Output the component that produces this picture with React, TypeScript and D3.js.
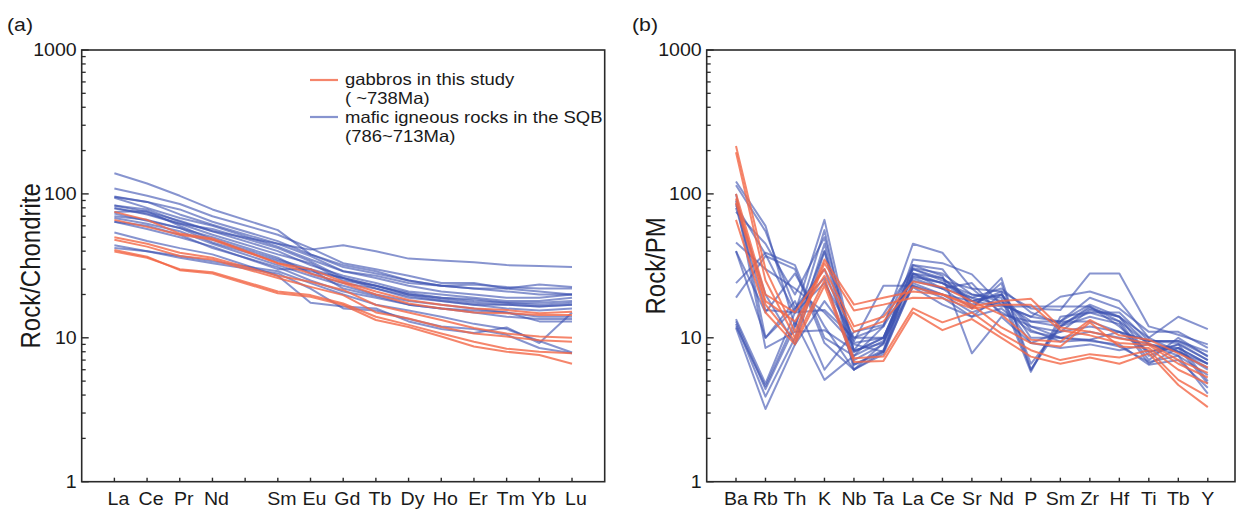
import React from 'react';
import * as d3 from 'd3';

// ---------- DATA ----------
// Panel (a): chondrite-normalized REE
const reeTickLabels = ['La', 'Ce', 'Pr', 'Nd', '', 'Sm', 'Eu', 'Gd', 'Tb', 'Dy', 'Ho', 'Er', 'Tm', 'Yb', 'Lu'];
const reePlotted = ['La', 'Ce', 'Pr', 'Nd', 'Sm', 'Eu', 'Gd', 'Tb', 'Dy', 'Ho', 'Er', 'Tm', 'Yb', 'Lu'];

const reeGabbros: number[][] = [
  [75, 66, 53, 49, 33, 30, 24.5, 21, 18.3, 17, 16, 15.6, 14.8, 15.2],
  [66, 59, 52, 48, 33, 28, 24, 20, 17.3, 16, 15, 14.8, 14.4, 14.4],
  [50, 45, 39, 36, 27, 24.5, 21.5, 16.9, 15, 13.3, 11.7, 10.7, 10.2, 10],
  [48, 43, 37, 35, 26, 22.6, 19.8, 15, 13.6, 11.9, 10.7, 10.2, 9.6, 9.4],
  [40.7, 36.6, 29.5, 28, 20.4, 19.3, 16.9, 13.3, 11.9, 10.2, 8.7, 8, 7.6, 6.6],
  [39.7, 36, 30, 28.6, 21, 19.8, 17.3, 14, 12.3, 10.7, 9.4, 8.4, 8, 7.8],
];

const reeSQB: number[][] = [
  [139, 118, 97, 78, 56, 38, 32, 29, 25, 23, 22, 21, 20, 20],
  [83, 75, 65, 55, 45, 41, 44, 40, 35.5, 34.5, 33.5, 32, 31.5, 31],
  [109, 97, 85, 70, 52, 42, 33, 30, 27, 24, 24, 22, 23.5, 22.5],
  [96, 88, 78, 64, 47, 38, 31, 28, 25, 23, 23.5, 22.5, 22, 22],
  [94, 80, 68, 60, 43, 35, 29, 26, 23, 21, 20, 19, 19, 20],
  [83, 78, 64, 55, 40, 32, 27, 24, 21, 20, 19, 18, 18, 19],
  [79, 73, 62, 52, 38, 33, 25, 23, 20, 19, 18, 17.5, 17, 17.5],
  [75, 76, 60, 48, 35, 30, 26, 22, 19, 18, 17, 17, 16.5, 17],
  [73, 65, 58, 50, 36, 28, 24, 22, 19.5, 18, 17, 16, 15.5, 16],
  [68, 62, 55, 45, 32, 27, 23, 20, 18, 17, 16, 15, 14, 14],
  [64, 57, 50, 43, 30, 30, 22, 19.5, 17, 16, 15, 14, 13.5, 13.5],
  [64, 60, 52, 42, 31, 25, 21, 19, 17, 16, 15.5, 15, 13, 13],
  [54, 47, 42, 38, 27, 17.5, 16.5, 16, 13, 11.5, 10.8, 11.8, 9.2, 15],
  [44, 40, 36, 33, 28, 22, 16, 15.5, 13.5, 12, 11.5, 10.5, 8.5, 7.8],
  [42, 40, 37, 34, 29, 24, 20, 17, 15.5, 14, 12.5, 11.5, 9.5, 7.9],
  [95, 88, 72, 61, 45, 37, 29, 27, 24, 23, 22, 22, 21, 20],
  [70, 66, 58, 46, 34, 29, 26, 23, 20, 18.5, 17.5, 17, 16.5, 17],
  [80, 72, 62, 57, 42, 34, 26, 23, 20.5, 19, 18.5, 17.5, 17.5, 18],
];

// Panel (b): primitive-mantle-normalized trace elements
const traceElements = ['Ba', 'Rb', 'Th', 'K', 'Nb', 'Ta', 'La', 'Ce', 'Sr', 'Nd', 'P', 'Sm', 'Zr', 'Hf', 'Ti', 'Tb', 'Y'];

const traceGabbros: number[][] = [
  [215, 30, 11, 35, 17, 19, 21, 20, 16.5, 18, 18.7, 11.8, 11, 9.9, 9.2, 7, 5.7],
  [195, 25, 10, 33, 15.5, 17, 19, 18.8, 16, 17, 17, 11.3, 10.4, 9.2, 8.9, 6.6, 5.3],
  [100, 20, 15, 30, 12, 14, 24.6, 22.5, 18, 14.5, 9.7, 9.4, 13.3, 10.4, 9.7, 7.8, 6.2],
  [93, 18, 13, 27, 11, 13, 22.5, 20, 17, 11.8, 9.2, 8.7, 12.8, 8.7, 8.5, 6, 4.8],
  [87, 17, 9.5, 25, 7.2, 7.4, 16, 12.8, 15, 10.7, 8.2, 7, 7.7, 7.3, 8.2, 5.1, 3.9],
  [66, 15, 9, 23, 6.8, 6.9, 15, 11.3, 13.5, 10, 7.4, 6.6, 7.3, 6.6, 7.8, 4.7, 3.3],
];

const traceSQB: number[][] = [
  [122, 60, 12, 40, 9.2, 10, 30, 26, 18, 20, 12, 11, 15.6, 14, 9, 8.5, 6.6],
  [115, 55, 16, 30, 8.2, 9.2, 28, 24, 20, 18, 13, 12, 16.5, 12, 8, 9, 7],
  [83, 38, 15, 24, 10, 12, 26, 22, 19, 17, 14, 13, 17, 14, 10, 8, 6.2],
  [80, 15.6, 15, 15.6, 10, 10, 26.5, 24, 18, 16.5, 16.5, 16.5, 16.5, 13, 9, 8, 6.6],
  [46, 30, 22, 15, 9, 8, 23, 19, 14, 20, 11.3, 9.4, 9.7, 11, 9.5, 9.5, 8],
  [40, 15, 28, 12, 6, 8, 32, 30, 16, 26, 6, 13, 19, 16, 11, 11, 8.5],
  [24, 39, 32, 10, 7.5, 12, 45, 39, 22, 21, 16, 15.6, 28, 28, 12, 10.5, 9],
  [19, 37, 30, 9.2, 6, 9.2, 35, 33, 27.6, 17, 14, 19.3, 21, 18, 10, 14, 11.5],
  [13.5, 4.8, 15, 66, 8, 10, 30.5, 28, 20, 19, 5.8, 14, 15, 13, 7, 10, 7.4],
  [13, 4.4, 12, 56, 7, 9, 28, 26, 17, 21, 6, 12, 14, 12.5, 6.6, 8.5, 6.6],
  [12.5, 3.9, 10, 45, 6.5, 8, 25, 22, 16, 24, 6.6, 12, 16, 14, 7.5, 9, 5],
  [11.7, 3.2, 9, 40, 6, 7.7, 24, 20, 15, 18, 9.2, 11, 12, 11, 8, 8.5, 4.8],
  [12, 4.6, 13, 5.1, 7.5, 9.5, 22.5, 17, 14, 16, 11, 10, 9.7, 8.7, 6.8, 7.5, 4.1],
  [100, 10, 18, 6, 11, 12.3, 32, 27, 7.8, 14, 9.2, 8.5, 9, 8.2, 9, 7.5, 5.5],
  [90, 8.5, 11, 11.3, 8.2, 14.6, 30, 25, 22, 15, 12, 10, 9.5, 9, 6.5, 7, 4.5],
  [40, 10, 16, 26, 6.5, 8.2, 28, 22, 24, 14.5, 13, 13, 13, 11, 9.5, 9.2, 7],
  [85, 20, 9, 18, 9.5, 23, 23, 20, 18, 20, 10, 10, 11, 10, 9, 8, 6],
  [75, 45, 20, 50, 8, 10, 27, 24, 19, 22, 15, 12.5, 15, 15, 9.5, 9.5, 7.5],
];

const yTickValues = [1, 10, 100, 1000];
const legendItems = [
  { label: ['gabbros in this study', '( ~738Ma)'], group: 'gabbro' },
  { label: ['mafic igneous rocks in the SQB', '(786~713Ma)'], group: 'sqb' },
];

// ---------- STYLE ----------
const FONT = '"Liberation Sans", Arial, Helvetica, sans-serif';
const ORANGE = 'rgb(243, 102, 70)';
const BLUE = 'rgb(62, 82, 178)';
const AXIS = '#2a2a2a';
const SX = 1.12;

function HText(props: { x: number; y: number; anchor?: string; size: number; children: React.ReactNode }) {
  const { x, y, anchor = 'start', size, children } = props;
  return (
    <text
      transform={`translate(${x},${y}) scale(${SX},1)`}
      textAnchor={anchor}
      fontSize={size}
      fontFamily={FONT}
      fill="#1a1a1a"
    >
      {children}
    </text>
  );
}

type PanelProps = {
  left: number;
  right: number;
  top: number;
  bottom: number;
  x: d3.ScaleLinear<number, number>;
  tickLabels: string[];
  labelOffset: number;
  yTitle: string;
  tag: string;
  tagX: number;
  series: { values: number[]; xs: number[]; color: string; opacity: number }[];
};

function Panel(p: PanelProps) {
  const y = d3.scaleLog().domain([1, 1000]).range([p.bottom, p.top]);
  const line = d3
    .line<[number, number]>()
    .x((d) => d[0])
    .y((d) => d[1]);
  const minor: number[] = [];
  for (let dec = 1; dec < 1000; dec *= 10) for (let k = 2; k <= 9; k++) minor.push(dec * k);
  const yMid = (p.top + p.bottom) / 2;
  return (
    <g>
      <HText x={p.tagX} y={31} size={19}>{p.tag}</HText>
      {p.series.map((s, i) => (
        <path
          key={i}
          d={line(s.values.map((v, j) => [s.xs[j], y(v)]) as [number, number][]) || ''}
          fill="none"
          stroke={s.color}
          strokeOpacity={s.opacity}
          strokeWidth={2}
          strokeLinejoin="round"
        />
      ))}
      <rect
        x={p.left}
        y={p.top}
        width={p.right - p.left}
        height={p.bottom - p.top}
        fill="none"
        stroke={AXIS}
        strokeWidth={1.6}
      />
      {minor.map((v) => (
        <line key={'m' + v} x1={p.left} x2={p.left + 4} y1={y(v)} y2={y(v)} stroke={AXIS} strokeWidth={1.3} />
      ))}
      {yTickValues.map((v) => (
        <g key={'t' + v}>
          <line x1={p.left} x2={p.left + 7} y1={y(v)} y2={y(v)} stroke={AXIS} strokeWidth={1.4} />
          <HText x={p.left - 5} y={y(v) + 6} anchor="end" size={17.5}>
            {String(v)}
          </HText>
        </g>
      ))}
      {p.tickLabels.map((lab, i) => (
        <g key={'x' + i}>
          <line x1={p.x(i)} x2={p.x(i)} y1={p.bottom} y2={p.bottom - 4} stroke={AXIS} strokeWidth={1.4} />
          {lab && (
            <HText x={p.x(i) + p.labelOffset} y={p.bottom + 23} anchor="middle" size={17.5}>
              {lab}
            </HText>
          )}
        </g>
      ))}
      <text
        transform={`translate(${p.left - 42},${yMid}) rotate(-90) scale(1,${SX})`}
        textAnchor="middle"
        fontSize={24}
        fontFamily={FONT}
        fill="#1a1a1a"
      >
        {p.yTitle}
      </text>
    </g>
  );
}

export default function App() {
  const top = 50;
  const bottom = 481.7;

  // Panel (a)
  const aLeft = 81.7;
  const aRight = 604.7;
  const xA = d3.scaleLinear().domain([-1, reeTickLabels.length]).range([aLeft, aRight]);
  const reeXs = reePlotted.map((e) => xA(reeTickLabels.indexOf(e)));
  const aSeries = [
    ...reeSQB.map((values) => ({ values, xs: reeXs, color: BLUE, opacity: 0.62 })),
    ...reeGabbros.map((values) => ({ values, xs: reeXs, color: ORANGE, opacity: 0.8 })),
  ];

  // Panel (b)
  const bLeft = 706.7;
  const bRight = 1235;
  const xB = d3.scaleLinear().domain([0, traceElements.length - 1]).range([736, 1207.8]);
  const traceXs = traceElements.map((_, i) => xB(i));
  const bSeries = [
    ...traceSQB.map((values) => ({ values, xs: traceXs, color: BLUE, opacity: 0.62 })),
    ...traceGabbros.map((values) => ({ values, xs: traceXs, color: ORANGE, opacity: 0.8 })),
  ];

  const legendY = [80, 117];
  const legendBase = [[85, 104], [123, 142]];

  return (
    <svg
      width={1237}
      height={510}
      style={{ position: 'absolute', left: 0, top: 0, background: '#fff' }}
    >
      <rect x={0} y={0} width={1237} height={510} fill="#fff" />
      <Panel
        left={aLeft}
        right={aRight}
        top={top}
        bottom={bottom}
        x={xA}
        tickLabels={reeTickLabels}
        labelOffset={4}
        yTitle="Rock/Chondrite"
        tag="(a)"
        tagX={7}
        series={aSeries}
      />
      <Panel
        left={bLeft}
        right={bRight}
        top={top}
        bottom={bottom}
        x={xB}
        tickLabels={traceElements}
        labelOffset={0}
        yTitle="Rock/PM"
        tag="(b)"
        tagX={632}
        series={bSeries}
      />
      {legendItems.map((item, i) => (
        <g key={item.group}>
          <line
            x1={310}
            x2={338}
            y1={legendY[i]}
            y2={legendY[i]}
            stroke={item.group === 'gabbro' ? ORANGE : BLUE}
            strokeOpacity={item.group === 'gabbro' ? 0.8 : 0.62}
            strokeWidth={2.2}
          />
          {item.label.map((t, k) => (
            <HText key={k} x={345} y={legendBase[i][k]} size={16.5}>
              {t}
            </HText>
          ))}
        </g>
      ))}
    </svg>
  );
}
